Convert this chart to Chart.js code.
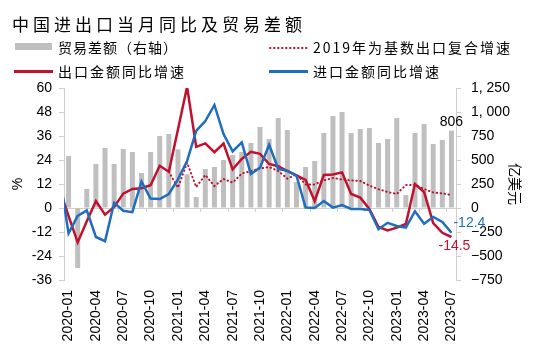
<!DOCTYPE html>
<html>
<head>
<meta charset="utf-8">
<script src="https://cdn.jsdelivr.net/npm/chart.js@4"></script>
<style>
body { margin: 0; background: #fff; }
#wrap { position: relative; width: 536px; height: 354px; font-family: "Noto Sans CJK SC", sans-serif; color: #000; }
#title { position: absolute; left: 12px; top: 13px; font-size: 17px; letter-spacing: 4px; line-height: 22px; white-space: nowrap; }
.lg { position: absolute; font-size: 14px; letter-spacing: 2px; line-height: 18px; white-space: nowrap; }
.sw { position: absolute; }
canvas { position: absolute; left: 0; top: 0; }
</style>
</head>
<body>
<div id="wrap">
  <canvas id="c" width="536" height="354"></canvas>
  <div id="title">中国进出口当月同比及贸易差额</div>
  <div class="sw" style="left:15px;top:43px;width:37px;height:7px;background:#bfbfbf"></div>
  <div class="lg" style="left:58px;top:38px;letter-spacing:1px">贸易差额（右轴）</div>
  <svg class="sw" style="left:269px;top:45px" width="40" height="6">
    <line x1="1" y1="3" x2="38" y2="3" stroke="#c0112f" stroke-width="2" stroke-dasharray="0.5 3.5" stroke-linecap="round"/>
  </svg>
  <div class="lg" style="left:313px;top:38px">2019年为基数出口复合增速</div>
  <div class="sw" style="left:14px;top:70px;width:39px;height:3px;background:#c0112f"></div>
  <div class="lg" style="left:58px;top:62px">出口金额同比增速</div>
  <div class="sw" style="left:269px;top:70px;width:39px;height:3px;background:#1f6dbf"></div>
  <div class="lg" style="left:313px;top:62px">进口金额同比增速</div>
</div>
<script>
// months; 2019-12 is only there so the lines enter from the left edge like the original
const months = ['2019-12',
  '2020-01','2020-02','2020-03','2020-04','2020-05','2020-06','2020-07','2020-08','2020-09','2020-10','2020-11','2020-12',
  '2021-01','2021-02','2021-03','2021-04','2021-05','2021-06','2021-07','2021-08','2021-09','2021-10','2021-11','2021-12',
  '2022-01','2022-02','2022-03','2022-04','2022-05','2022-06','2022-07','2022-08','2022-09','2022-10','2022-11','2022-12',
  '2023-01','2023-02','2023-03','2023-04','2023-05','2023-06','2023-07'];
const tickMonths = ['2020-01','2020-04','2020-07','2020-10','2021-01','2021-04','2021-07','2021-10',
  '2022-01','2022-04','2022-07','2022-10','2023-01','2023-04','2023-07'];

// 贸易差额, 亿美元 (right axis)
const balance = [null,
  542, -625, 199, 458, 625, 458, 615, 583, 365, 583, 750, 771,
  611, 351, 115, 406, 427, 500, 552, 583, 677, 844, 719, 938,
  812, 271, 427, 490, 781, 958, 1000, 781, 823, 833, 677, 719,
  938, 135, 781, 875, 667, 708, 806];

// 出口金额同比增速, %
const exportYoY = [9.5,
  -4, -17.2, -6.6, 3.5, -3.3, 0.5, 7.2, 9.5, 9.9, 11.4, 21.1, 18.1,
  39.3, 60.6, 30.6, 32.3, 27.9, 32.2, 19.3, 24.5, 28.1, 27.1, 22.0, 20.9,
  18.5, 16.3, 14.0, 3.5, 16.5, 16.8, 17.8, 7.0, 5.2, -0.5, -9.5, -11.2,
  -9.8, -8.0, 12.0, 8.0, -7.5, -12.4, -14.5];

// 进口金额同比增速, %
const importYoY = [17,
  -12.7, -4.0, -1.2, -14.5, -16.6, 2.6, -1.4, -2.1, 13.2, 4.7, 4.5, 7.0,
  14.3, 23.5, 38.5, 43.5, 51.5, 37.0, 28.3, 32.8, 17.0, 20.2, 31.6, 19.6,
  18.5, 16.2, 0.2, 0.0, 3.5, 0.2, 1.5, -0.5, -0.5, -1.0, -10.6, -7.4,
  -9.0, -9.8, -1.6, -7.9, -4.5, -7.0, -12.4];

// 2019年为基数出口复合增速, %
const base2019 = [null,
  null, null, null, null, null, null, null, null, null, null, null, 18.1,
  10.2, 22.7, 10.5, 16.5, 11.0, 14.5, 12.7, 17.2, 18.5, 19.8, 20.5, 18.5,
  14.7, 16.8, 11.8, 11.8, 13.8, 15.0, 14.3, 13.8, 13.5, 11.2, 9.4, 8.0,
  7.0, 11.5, 11.6, 9.5, 7.8, 7.3, 6.5];

const RED = '#c0112f';
const BLUE = '#1f6dbf';
const GREY = '#bfbfbf';
const AXIS = '#cfcfcf';
const tickFont = { family: '"Liberation Sans", Arial, sans-serif', size: 14 };

const endLabels = {
  id: 'endLabels',
  afterDatasetsDraw(chart) {
    const c = chart.ctx;
    const last = months.length - 1;
    const pBlue = chart.getDatasetMeta(0).data[last];
    const pRed = chart.getDatasetMeta(1).data[last];
    const bar = chart.getDatasetMeta(3).data[last];
    c.save();
    c.font = '14px "Liberation Sans", Arial, sans-serif';
    c.fillStyle = '#000';
    c.textAlign = 'center';
    c.textBaseline = 'bottom';
    c.fillText(String(balance[last]), bar.x, bar.y - 1);
    c.fillStyle = BLUE;
    c.textAlign = 'left';
    c.textBaseline = 'middle';
    c.fillText(importYoY[last].toFixed(1), pBlue.x + 2, pBlue.y - 10);
    c.fillStyle = RED;
    c.textAlign = 'center';
    c.textBaseline = 'top';
    c.fillText(exportYoY[last].toFixed(1), pRed.x + 3, pRed.y + 2);
    c.restore();
  }
};

new Chart(document.getElementById('c'), {
  type: 'bar',
  data: {
    labels: months,
    datasets: [
      { type: 'line', label: '进口金额同比增速', data: importYoY, borderColor: BLUE, borderWidth: 2.5,
        pointRadius: 0, tension: 0, yAxisID: 'y', order: 1 },
      { type: 'line', label: '出口金额同比增速', data: exportYoY, borderColor: RED, borderWidth: 2.5,
        pointRadius: 0, tension: 0, yAxisID: 'y', order: 2 },
      { type: 'line', label: '2019年为基数出口复合增速', data: base2019, borderColor: RED, borderWidth: 2,
        borderDash: [0.5, 3.5], borderCapStyle: 'round', pointRadius: 0, tension: 0, yAxisID: 'y', order: 3 },
      { type: 'bar', label: '贸易差额（右轴）', data: balance, backgroundColor: GREY,
        barPercentage: 0.55, categoryPercentage: 1, yAxisID: 'y1', order: 4 }
    ]
  },
  options: {
    responsive: false,
    animation: false,
    layout: { padding: { top: 88, left: 0, right: 0, bottom: 0 } },
    plugins: { legend: { display: false }, tooltip: { enabled: false } },
    scales: {
      x: {
        type: 'category', min: '2020-01', offset: true,
        grid: { display: false, drawTicks: false },
        border: { display: false },
        ticks: {
          autoSkip: false, minRotation: 90, maxRotation: 90, padding: 10, color: '#000', font: tickFont,
          callback(v) { const l = this.getLabelForValue(v); return tickMonths.includes(l) ? l : ''; }
        },
        afterFit(s) { s.height = 74; }
      },
      xz: {
        type: 'category', axis: 'x', min: '2020-01', offset: true, position: { y: 0 },
        grid: { offset: true, drawOnChartArea: false, drawTicks: true, tickLength: 4,
          color: c => (c.index % 3 === 0 ? AXIS : 'transparent') },
        border: { display: false },
        ticks: { display: false }
      },
      y: {
        position: 'left', min: -36, max: 60,
        ticks: { stepSize: 12, color: '#000', font: tickFont, padding: 7 },
        grid: { drawOnChartArea: true, color: c => (c.tick && c.tick.value === 0 ? AXIS : 'transparent'),
          tickColor: AXIS, tickLength: 5 },
        border: { color: AXIS },
        title: { display: true, text: '%', color: '#000', font: { family: tickFont.family, size: 14 }, padding: { top: 10, bottom: 0 } },
        afterFit(s) { s.width = 64; }
      },
      y1: {
        position: 'right', min: -750, max: 1250,
        ticks: { stepSize: 250, color: '#000', font: tickFont, padding: 10,
          callback: v => (v < 0 ? '\u2212' : '') + Math.abs(v).toLocaleString('en-US').replace(',', ', ') },
        grid: { drawOnChartArea: false, tickColor: AXIS, tickLength: 5 },
        border: { color: AXIS },
        title: { display: true, text: '亿美元', color: '#000', font: { family: '"Noto Sans CJK SC", sans-serif', size: 14 }, padding: { top: 12, bottom: 0 } },
        afterFit(s) { s.width = 80; }
      }
    }
  },
  plugins: [endLabels]
});
</script>
</body>
</html>
